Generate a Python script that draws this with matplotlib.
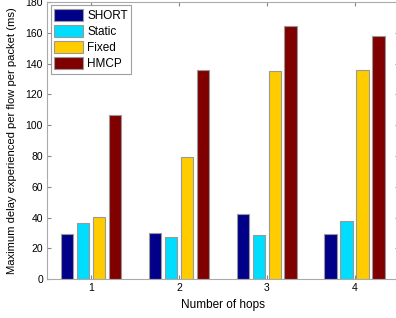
import matplotlib
matplotlib.use("Agg")
import matplotlib.pyplot as plt
import numpy as np

plt.rcParams['font.family'] = ['Liberation Sans', 'DejaVu Sans']

hops = [1, 2, 3, 4]
series_names = ["SHORT", "Static", "Fixed", "HMCP"]
short_vals = [29.3, 30.0, 42.4, 29.3]
static_vals = [36.5, 27.4, 28.4, 38.0]
fixed_vals = [40.4, 79.5, 135.0, 135.5]
hmcp_vals = [106.3, 135.8, 164.2, 158.0]
colors = ["#000088", "#00DDFF", "#FFCC00", "#800000"]

fig = plt.figure(figsize=(3.96, 3.18), dpi=100)
ax = fig.add_axes([0.119, 0.122, 0.888, 0.872])

data = [short_vals, static_vals, fixed_vals, hmcp_vals]
n = len(data)
gw = min(0.8, n / (n + 1.5))
pitch = gw / n
bw = pitch * 0.8
x = np.array(hops, dtype=float)
for i, (vals, name, c) in enumerate(zip(data, series_names, colors)):
    ax.bar(x + (i - (n - 1) / 2) * pitch, vals, width=bw, color=c,
           edgecolor="#999999", linewidth=0.8, label=name)

ax.set_xlim(0.5, 4.5)
ax.set_ylim(0, 180)
ax.set_xticks(hops)
ax.set_yticks(np.arange(0, 181, 20))
ax.tick_params(direction="in", labelsize=7.5, length=3, color="#888888",
               top=True, right=True, pad=3)
for s in ax.spines.values():
    s.set_color("#aaaaaa")
ax.set_xlabel("Number of hops", fontsize=8.5, labelpad=4)
ax.set_ylabel("Maximum delay experienced per flow per packet (ms)", fontsize=8.1, labelpad=6)

leg = ax.legend(loc="upper left", fontsize=8.5, frameon=True, fancybox=False,
                edgecolor="#888888", borderaxespad=0.3, handlelength=2.4,
                handleheight=1.2, labelspacing=0.25, handletextpad=0.4,
                borderpad=0.3)
leg.get_frame().set_linewidth(0.8)

fig.savefig("out.png", dpi=100)
